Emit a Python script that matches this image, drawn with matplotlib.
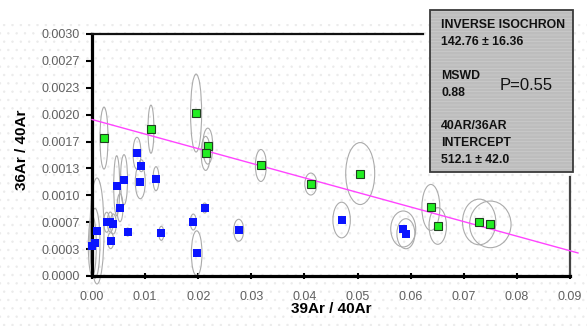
import numpy as np
import matplotlib
matplotlib.use("Agg")
import matplotlib.pyplot as plt
from matplotlib.patches import Ellipse, Rectangle

plt.rcParams['font.family'] = ['Liberation Sans', 'DejaVu Sans']

# ---- data ----
green_x = [0.00226, 0.0111, 0.0196, 0.0218, 0.0214, 0.0318, 0.0412, 0.0505,
           0.0638, 0.0651, 0.0729, 0.0750]
green_y = [0.00171, 0.00182, 0.00202, 0.00161, 0.00152, 0.00137, 0.00114,
           0.00127, 0.00085, 0.00062, 0.00067, 0.00064]
green_ex = [0.00075, 0.00056, 0.00104, 0.00094, 0.00085, 0.00104, 0.00113,
            0.00273, 0.00169, 0.00164, 0.00314, 0.00390]
green_ey = [0.000384, 0.000298, 0.000483, 0.000223, 0.000211, 0.000198,
            0.000136, 0.000384, 0.000285, 0.000227, 0.000283, 0.000289]

blue_x = [0.00847, 0.00928, 0.00465, 0.00603, 0.00909, 0.01205, 0.00527,
          0.02122, 0.00277, 0.00345, 0.00401, 0.00094, 0.00672, 0.01305,
          0.01907, 0.02762, 0.00352, 0.00056, 0.00006, 0.01971, 0.0470,
          0.0586, 0.0591]
blue_y = [0.001521, 0.001367, 0.001119, 0.001194, 0.001169, 0.001206,
          0.000847, 0.000843, 0.000666, 0.000669, 0.000645, 0.000558,
          0.000545, 0.000529, 0.000669, 0.000567, 0.000438, 0.000405,
          0.000372, 0.000281, 0.000694, 0.000583, 0.000524]
blue_ex = [0.00075, 0.00047, 0.00056, 0.00066, 0.00094, 0.00056, 0.00056,
           0.00047, 0.00056, 0.00056, 0.00056, 0.00132, 0.00038, 0.00047,
           0.00056, 0.00094, 0.00056, 0.00094, 0.00075, 0.00100, 0.00164,
           0.00235, 0.00169]
blue_ey = [0.000198, 0.000074, 0.000372, 0.000310, 0.000211, 0.000149,
           0.000174, 0.000062, 0.000124, 0.000124, 0.000124, 0.000657,
           0.000050, 0.000087, 0.000099, 0.000136, 0.000099, 0.000434,
           0.000372, 0.000279, 0.000221, 0.000223, 0.000186]

line_intercept = 0.00194
line_slope = -0.01808
line_x = [0.0, 0.0915]

yticks = [0.0, 0.000333, 0.000667, 0.001, 0.001333, 0.001667, 0.002,
          0.002333, 0.002667, 0.003]
ytick_labels = ['0.0000', '0.0003', '0.0007', '0.0010', '0.0013', '0.0017',
                '0.0020', '0.0023', '0.0027', '0.0030']
xticks = [0.0, 0.01, 0.02, 0.03, 0.04, 0.05, 0.06, 0.07, 0.08, 0.09]
xtick_labels = ['0.00', '0.01', '0.02', '0.03', '0.04', '0.05', '0.06',
                '0.07', '0.08', '0.09']

box_lines = [("INVERSE ISOCHRON", 25), ("142.76 \u00b1 16.36", 42),
             ("MSWD", 76), ("0.88", 93), ("40AR/36AR", 126),
             ("INTERCEPT", 143), ("512.1 \u00b1 42.0", 160)]

W, H = 587, 326
fig = plt.figure(figsize=(W / 100, H / 100), dpi=100)
fig.patch.set_facecolor('white')

# dotted background texture
plt.rcParams['hatch.linewidth'] = 0.5
bg = Rectangle((0, 0), 1, 1 - 24 / H, transform=fig.transFigure,
               facecolor='white', edgecolor='#ebebeb', hatch='..',
               linewidth=0, zorder=-10)
fig.add_artist(bg)

ax = fig.add_axes([92 / W, 1 - 276 / H, (570 - 92) / W, (276 - 34) / H])
ax.patch.set_visible(False)
ax.set_xlim(0, 0.09)
ax.set_ylim(0, 0.003)

for x, y, ex, ey in zip(blue_x, blue_y, blue_ex, blue_ey):
    ax.add_patch(Ellipse((x, y), 2 * ex, 2 * ey, facecolor='none',
                         edgecolor='#ababab', linewidth=0.8, zorder=2,
                         clip_on=False))
for x, y, ex, ey in zip(green_x, green_y, green_ex, green_ey):
    ax.add_patch(Ellipse((x, y), 2 * ex, 2 * ey, facecolor='none',
                         edgecolor='#ababab', linewidth=0.8, zorder=2,
                         clip_on=False))

lx = np.array(line_x)
ax.plot(lx, line_intercept + line_slope * lx, color='#ff44ff', lw=1.0,
        zorder=3, clip_on=False)

ax.plot(blue_x, blue_y, 's', color='#0a14ff', ms=5.2, mec='#0a14ff',
        mew=0, zorder=4, clip_on=False)
ax.plot(green_x, green_y, 's', color='#22ee22', ms=6.0, mec='#204020',
        mew=0.8, zorder=5, clip_on=False)

ax.set_xticks(xticks)
ax.set_xticklabels(xtick_labels)
ax.set_yticks(yticks)
ax.set_yticklabels(ytick_labels)
ax.tick_params(axis='x', direction='inout', length=5, width=1.5,
               labelsize=9, labelcolor='#606060', pad=8)
ax.tick_params(axis='y', direction='out', length=4, width=1.5,
               labelsize=9, labelcolor='#606060', pad=5)

for s in ['left', 'bottom']:
    ax.spines[s].set_linewidth(2.3)
    ax.spines[s].set_color('black')
ax.spines['top'].set_linewidth(1.6)
ax.spines['top'].set_color('#111111')
ax.spines['top'].set_bounds(0, 0.0623)
ax.spines['right'].set_linewidth(1.6)
ax.spines['right'].set_color('#444444')
ax.spines['right'].set_bounds(0, 0.00123)

fig.text(331 / W, 1 - 309 / H, "39Ar / 40Ar", ha='center', va='center',
         fontsize=11, fontweight='bold')
fig.text(22 / W, 1 - 150 / H, "36Ar / 40Ar", ha='center', va='center',
         rotation=90, fontsize=11, fontweight='bold')

# info box
bx0, by0, bx1, by1 = 430, 10, 573, 172
box = Rectangle((bx0 / W, 1 - by1 / H), (bx1 - bx0) / W, (by1 - by0) / H,
                transform=fig.transFigure, facecolor='#bdbdbd',
                edgecolor='none', zorder=5)
fig.add_artist(box)
boxh = Rectangle((bx0 / W, 1 - by1 / H), (bx1 - bx0) / W, (by1 - by0) / H,
                 transform=fig.transFigure, facecolor='none',
                 edgecolor='#cdcdcd', hatch='-----', linewidth=0, zorder=5.1)
fig.add_artist(boxh)
boxe = Rectangle((bx0 / W, 1 - by1 / H), (bx1 - bx0) / W, (by1 - by0) / H,
                 transform=fig.transFigure, facecolor='none',
                 edgecolor='#3a3a3a', linewidth=1.3, zorder=5.2)
fig.add_artist(boxe)

for txt, py in box_lines:
    fig.text(441 / W, 1 - py / H, txt, ha='left', va='center', fontsize=8.8,
             fontweight='bold', color='#111111', zorder=6)
fig.text(500 / W, 1 - 86 / H, "P=0.55", ha='left', va='center',
         fontsize=12, color='#111111', zorder=6)

fig.savefig('out.png', dpi=100)
